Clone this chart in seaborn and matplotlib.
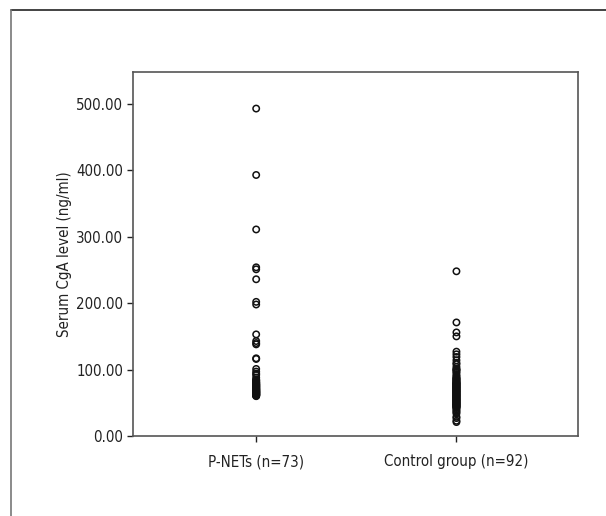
import pandas as pd
import matplotlib
matplotlib.use("Agg")
import matplotlib.pyplot as plt
from matplotlib.lines import Line2D
from matplotlib.ticker import FormatStrFormatter
import seaborn as sns

# === Datos ===
grupos = ["P-NETs (n=73)", "Control group (n=92)"]

pnets = [
    493, 393, 311, 254, 251, 236, 202, 198, 153, 143, 140, 138,
    117, 116, 101, 97, 94, 92, 88, 85, 84, 83, 82, 81, 80, 80,
    79, 78, 78, 77, 77, 76, 76, 75, 75, 74, 74, 73, 73, 72,
    72, 71, 71, 70, 70, 70, 69, 69, 68, 68, 68, 67, 67, 67,
    66, 66, 66, 65, 65, 65, 64, 64, 64, 63, 63, 63, 62, 62,
    62, 61, 61, 61, 60,
]

control = [
    248, 171, 156, 150, 127, 123, 119, 114, 110, 108, 104, 101,
    100, 99, 97, 95, 92, 90, 88, 87, 86, 85, 84, 83, 82, 81,
    80, 80, 79, 78, 78, 77, 76, 76, 75, 74, 74, 73, 72, 72,
    71, 70, 70, 69, 68, 68, 67, 66, 66, 65, 64, 64, 63, 62,
    62, 61, 60, 60, 59, 58, 58, 57, 56, 56, 55, 54, 54, 53,
    52, 52, 51, 50, 50, 49, 48, 48, 47, 46, 46, 45, 44, 44,
    43, 42, 40, 38, 36, 34, 29, 27, 23, 21,
]

y_label = "Serum CgA level (ng/ml)"
y_ticks = [0, 100, 200, 300, 400, 500]


def armar_tabla():
    filas = [(grupos[0], v) for v in pnets] + [(grupos[1], v) for v in control]
    return pd.DataFrame(filas, columns=["grupo", "valor"])


def graficar(df):
    sns.set_style("ticks")
    plt.rcParams["font.family"] = ["DejaVu Sans"]
    plt.rcParams["font.stretch"] = "condensed"

    fig = plt.figure(figsize=(6.06, 5.16), dpi=100)
    ax = fig.add_axes([0.2195, 0.155, 0.7343, 0.7054])

    sns.stripplot(data=df, x="grupo", y="valor", order=grupos, jitter=False,
                  marker="o", s=4.6, color="black", edgecolor="black",
                  linewidth=1.1, ax=ax)
    for col in ax.collections:
        col.set_facecolor("none")
        col.set_edgecolor("#111111")

    ax.set_xlim(-0.615, 1.607)
    ax.set_ylim(0, 548)
    ax.set_yticks(y_ticks)
    ax.yaxis.set_major_formatter(FormatStrFormatter("%.2f"))
    ax.set_xlabel("")
    ax.set_ylabel(y_label, fontsize=10.8, color="#222222", labelpad=3)
    ax.tick_params(axis="both", labelsize=10.8, colors="#222222", length=4,
                   width=1, direction="out", pad=3)
    ax.tick_params(axis="x", pad=9)

    for s in ax.spines.values():
        s.set_visible(True)
        s.set_color("#555555")
        s.set_linewidth(1.2)

    # marco exterior recortado
    fig.add_artist(Line2D([11 / 606, 1.0], [1 - 10 / 516, 1 - 10 / 516],
                          transform=fig.transFigure, color="#222222", lw=1.2))
    fig.add_artist(Line2D([11 / 606, 11 / 606], [0.0, 1 - 10 / 516],
                          transform=fig.transFigure, color="#777777", lw=1.2))

    fig.savefig("out.png", dpi=100, facecolor="white")


def main():
    df = armar_tabla()
    graficar(df)


if __name__ == "__main__":
    main()
